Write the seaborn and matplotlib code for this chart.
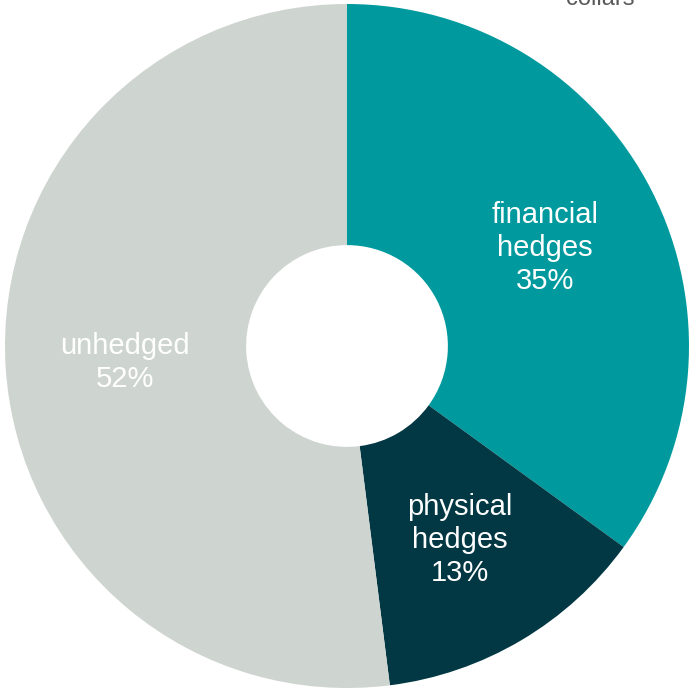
import matplotlib
matplotlib.use("Agg")
import matplotlib.pyplot as plt
import seaborn as sns

sns.set_theme(style="white")
plt.rcParams["font.family"] = ["Liberation Sans", "DejaVu Sans"]

categories = ["financial\nhedges", "physical\nhedges", "unhedged"]
shares = [35, 13, 52]
colors = ["#009A9E", "#023843", "#CED4CF"]

fig = plt.figure(figsize=(6.92, 6.88), dpi=100)
ax = fig.add_axes([0, 0, 1, 1])

labels = [f"{c}\n{v}%" for c, v in zip(categories, shares)]
wedges, texts = ax.pie(
    shares,
    labels=labels,
    colors=colors,
    startangle=90,
    counterclock=False,
    radius=1.0,
    labeldistance=0.65,
    wedgeprops=dict(width=0.705, edgecolor="none"),
    textprops=dict(color="white", fontsize=21, linespacing=1.22),
)
for t in texts:
    t.set_ha("center")
    t.set_va("center")
    x, y = t.get_position()
    t.set_position((x, y - 0.008))

# caption from the adjacent panel, cut by the top edge
ax.text(0.74, 0.997, "collars", color="#595959", fontsize=17,
        ha="center", va="baseline")

ax.set_xlim(-1.0146, 1.0088)
ax.set_ylim(-1.0, 1.0117)
ax.set_aspect("auto")
ax.axis("off")

fig.savefig("out.png", dpi=100)
